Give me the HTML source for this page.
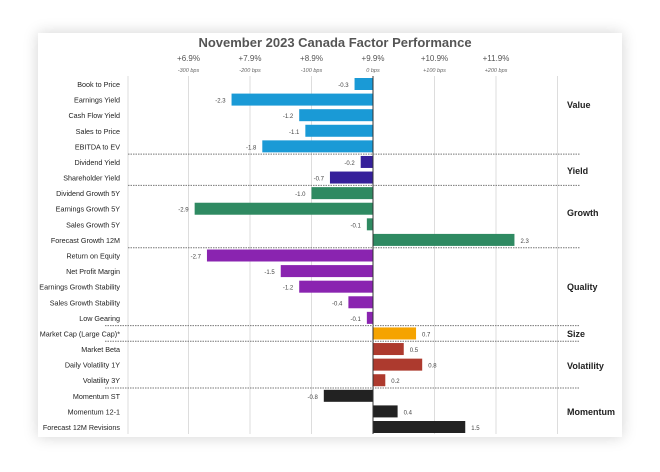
<!DOCTYPE html>
<html><head><meta charset="utf-8"><style>
body{margin:0;width:660px;height:472px;background:#fff;overflow:hidden;font-family:"Liberation Sans",sans-serif}
#card{position:absolute;left:38px;top:33px;width:584px;height:404px;background:#fff;box-shadow:0 0 14px rgba(0,0,0,0.18)}
svg{position:absolute;left:0;top:0}
</style></head><body>
<div id="card"></div>
<svg width="660" height="472" id="s" font-family="Liberation Sans, sans-serif"></svg>
<script>
const rows=[
["Book to Price",-0.3,"#1a9ad6"],["Earnings Yield",-2.3,"#1a9ad6"],["Cash Flow Yield",-1.2,"#1a9ad6"],["Sales to Price",-1.1,"#1a9ad6"],["EBITDA to EV",-1.8,"#1a9ad6"],
["Dividend Yield",-0.2,"#35209a"],["Shareholder Yield",-0.7,"#35209a"],
["Dividend Growth 5Y",-1.0,"#2f8a62"],["Earnings Growth 5Y",-2.9,"#2f8a62"],["Sales Growth 5Y",-0.1,"#2f8a62"],["Forecast Growth 12M",2.3,"#2f8a62"],
["Return on Equity",-2.7,"#8a24b0"],["Net Profit Margin",-1.5,"#8a24b0"],["Earnings Growth Stability",-1.2,"#8a24b0"],["Sales Growth Stability",-0.4,"#8a24b0"],["Low Gearing",-0.1,"#8a24b0"],
["Market Cap (Large Cap)*",0.7,"#f5a300"],
["Market Beta",0.5,"#ad3a2e"],["Daily Volatility 1Y",0.8,"#ad3a2e"],["Volatility 3Y",0.2,"#ad3a2e"],
["Momentum ST",-0.8,"#222"],["Momentum 12-1",0.4,"#222"],["Forecast 12M Revisions",1.5,"#222"]];
const z=373,sc=61.5,y0=84,dy=(427-84)/22;
let h='';
h+='<text x="335" y="47" text-anchor="middle" font-size="13" font-weight="bold" fill="#555">November 2023 Canada Factor Performance</text>';
const tk=["+6.9%","+7.9%","+8.9%","+9.9%","+10.9%","+11.9%"],bp=["-300 bps","-200 bps","-100 bps","0 bps","+100 bps","+200 bps"];
for(let i=-3;i<=3;i++){const x=z+i*sc;h+=`<line x1="${x}" y1="76" x2="${x}" y2="434" stroke="#ddd" stroke-width="1"/>`;
if(i<3){h+=`<text x="${x}" y="61" text-anchor="middle" font-size="8" fill="#555">${tk[i+3]}</text><text x="${x}" y="72" text-anchor="middle" font-size="5.5" font-style="italic" fill="#666">${bp[i+3]}</text>`;}}
h+=`<line x1="128" y1="76" x2="128" y2="434" stroke="#ddd"/>`;
rows.forEach((r,i)=>{const y=y0+i*dy;const v=r[1];const w=Math.abs(v)*sc;const x=v<0?z-w:z;
h+=`<text x="120" y="${y+3}" text-anchor="end" font-size="7.2" fill="#222">${r[0]}</text>`;
h+=`<rect x="${x}" y="${y-6}" width="${w}" height="12" fill="${r[2]}"/>`;
const lx=v<0?x-6:x+w+6;h+=`<text x="${lx}" y="${y+3}" text-anchor="${v<0?'end':'start'}" font-size="6" fill="#444">${v.toFixed(1)}</text>`;});
h+=`<line x1="${z}" y1="76" x2="${z}" y2="434" stroke="#333" stroke-width="1"/>`;
[5,7,11,16,17,20].forEach(k=>{const y=y0+(k-0.5)*dy;h+=`<line x1="${k>=16?105:128}" y1="${y}" x2="580" y2="${y}" stroke="#777" stroke-width="1" stroke-dasharray="1.5,1"/>`;});
[["Value",108],["Yield",174],["Growth",216],["Quality",290],["Size",337],["Volatility",369],["Momentum",415]].forEach(g=>{h+=`<text x="567" y="${g[1]}" font-size="9" font-weight="bold" fill="#222">${g[0]}</text>`;});
document.getElementById('s').innerHTML=h;
</script>
</body></html>
